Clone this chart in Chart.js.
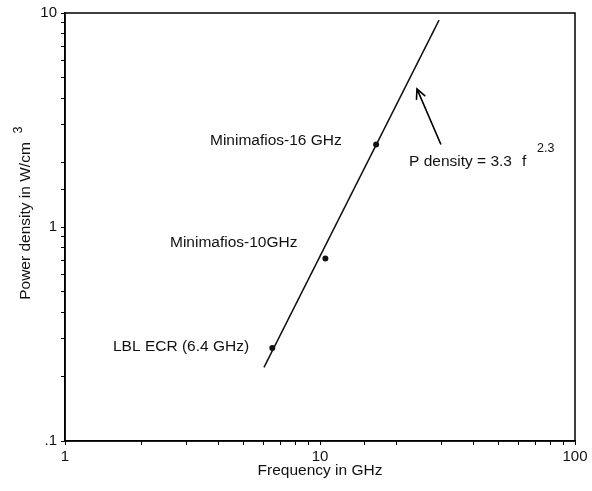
<!DOCTYPE html>
<html>
<head>
<meta charset="utf-8">
<script src="https://cdn.jsdelivr.net/npm/chart.js@4"></script>
<style>
html,body{margin:0;padding:0;background:#fff;}
#wrap{width:592px;height:491px;position:relative;}
</style>
</head>
<body>
<div id="wrap"><canvas id="c" width="592" height="491"></canvas></div>
<script>
// Data
const pointNames = ["LBL ECR (6.4 GHz)", "Minimafios-10GHz", "Minimafios-16 GHz"];
const pointFreq = [6.5, 10.5, 16.6];
const pointDensity = [0.272, 0.713, 2.43];
const fitFreq = [6.03, 29.3];
const fitDensity = [0.221, 9.27];
const xTickLabels = {1: "1", 10: "10", 100: "100"};
const yTickLabels = {0.1: ".1", 1: "1", 10: "10"};
const fitLabel = "P density = 3.3";
const fitVar = "f";
const fitExponent = "2.3";
const xTitle = "Frequency in GHz";
const yTitle = "Power density in W/cm";
const yTitleSup = "3";

const FONT = "'Liberation Sans', Arial, sans-serif";

const annotations = {
  id: 'annotations',
  afterDatasetsDraw(chart) {
    const ctx = chart.ctx;
    const a = chart.chartArea;
    const xs = chart.scales.x, ys = chart.scales.y;
    ctx.save();
    // box
    ctx.strokeStyle = '#000';
    ctx.lineWidth = 1.5;
    ctx.strokeRect(a.left, a.top, a.right - a.left, a.bottom - a.top);
    ctx.fillStyle = '#111';
    ctx.font = '15.5px ' + FONT;
    ctx.textBaseline = 'middle';
    // point labels
    ctx.textAlign = 'left';
    ctx.fillText(pointNames[2], 210, 141);
    ctx.fillText(pointNames[1], 170, 243);
    ctx.fillText(pointNames[0], 113, 347);
    // fit label
    ctx.fillText(fitLabel, 409, 162);
    ctx.fillText(fitVar, 522, 162);
    ctx.font = '12.5px ' + FONT;
    ctx.fillText(fitExponent, 537, 149);
    // arrow
    const tx = xs.getPixelForValue(24.0), ty = ys.getPixelForValue(4.42);
    const sx = xs.getPixelForValue(29.8), sy = ys.getPixelForValue(2.43);
    ctx.lineWidth = 1.6;
    ctx.beginPath();
    ctx.moveTo(sx, sy); ctx.lineTo(tx, ty);
    const ang = Math.atan2(ty - sy, tx - sx);
    const hl = 11, hw = 0.45;
    ctx.moveTo(tx - hl * Math.cos(ang - hw), ty - hl * Math.sin(ang - hw));
    ctx.lineTo(tx, ty);
    ctx.lineTo(tx - hl * Math.cos(ang + hw), ty - hl * Math.sin(ang + hw));
    ctx.stroke();
    // axis titles
    ctx.font = '15.5px ' + FONT;
    ctx.textAlign = 'center';
    ctx.fillText(xTitle, (a.left + a.right) / 2, 471);
    ctx.save();
    ctx.translate(26, 221);
    ctx.rotate(-Math.PI / 2);
    ctx.fillText(yTitle, 0, 0);
    ctx.font = '12.5px ' + FONT;
    ctx.fillText(yTitleSup, 91, -7);
    ctx.restore();
    ctx.restore();
  }
};

new Chart(document.getElementById('c'), {
  type: 'scatter',
  data: {
    datasets: [
      {
        data: fitFreq.map((f, i) => ({x: f, y: fitDensity[i]})),
        showLine: true,
        borderColor: '#111',
        borderWidth: 1.5,
        pointRadius: 0,
        fill: false
      },
      {
        data: pointFreq.map((f, i) => ({x: f, y: pointDensity[i]})),
        showLine: false,
        pointRadius: 3,
        pointBackgroundColor: '#111',
        pointBorderColor: '#111',
        pointBorderWidth: 0
      }
    ]
  },
  options: {
    responsive: false,
    animation: false,
    layout: {padding: {top: 12, right: 17, left: 0, bottom: 0}},
    plugins: {legend: {display: false}, tooltip: {enabled: false}, title: {display: false}},
    scales: {
      x: {
        type: 'logarithmic',
        min: 1, max: 100,
        afterFit(s) { s.height = 50; },
        border: {display: true, color: '#000', width: 1.5},
        grid: {display: true, drawOnChartArea: false, drawTicks: true, tickLength: 4, color: '#000', lineWidth: 1},
        ticks: {
          autoSkip: false, maxRotation: 0, color: '#111', padding: 3,
          font: {family: FONT, size: 15},
          callback(v) { return xTickLabels[v] !== undefined ? xTickLabels[v] : ''; }
        }
      },
      y: {
        type: 'logarithmic',
        min: 0.1, max: 10,
        afterFit(s) { s.width = 65; },
        border: {display: true, color: '#000', width: 1.5},
        grid: {display: true, drawOnChartArea: false, drawTicks: true, tickLength: 4, color: '#000', lineWidth: 1},
        ticks: {
          autoSkip: false, color: '#111', padding: 4,
          font: {family: FONT, size: 15},
          callback(v) {
            const k = Math.round(v * 1000) / 1000;
            return yTickLabels[k] !== undefined ? yTickLabels[k] : '';
          }
        }
      }
    }
  },
  plugins: [annotations]
});
</script>
</body>
</html>
